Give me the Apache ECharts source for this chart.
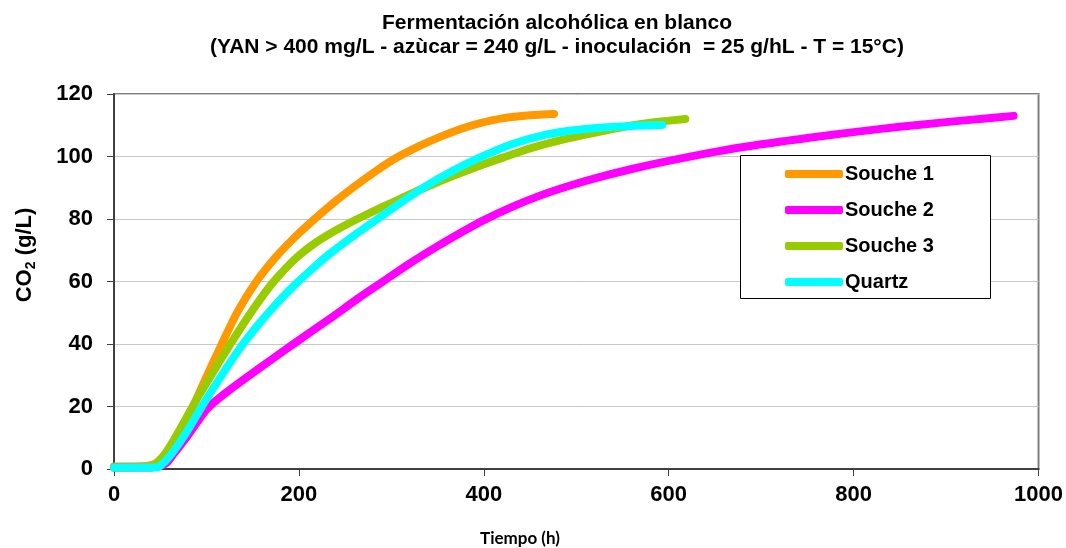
<!DOCTYPE html>
<html>
<head>
<meta charset="utf-8">
<script src="https://cdn.jsdelivr.net/npm/echarts@6/dist/echarts.min.js"></script>
<style>html,body{margin:0;padding:0;background:#fff}#c{width:1066px;height:548px}</style>
</head>
<body>
<div id="c"></div>
<script>
// ---- data ----
const seriesNames = ['Souche 1', 'Souche 2', 'Souche 3', 'Quartz'];
const seriesColors = ['#FF9900', '#FF00FF', '#99CC00', '#00FFFF'];

const souche1Time = [0, 35, 45, 55, 65, 75, 84, 100, 115, 134, 154, 175, 195, 217, 240, 261, 283, 305, 330, 352, 375, 395, 420, 450, 476];
const souche1CO2  = [0.8, 1, 1.8, 4.5, 8.5, 13.5, 19, 29.5, 39, 50.5, 60, 67.8, 74, 80, 85.8, 90.6, 95.3, 99.5, 103.3, 106.2, 108.8, 110.6, 112.2, 113.2, 113.6];

const souche2Time = [0, 40, 50, 57, 65, 78, 90, 100, 110, 125, 150, 175, 197, 233, 266, 291, 320, 350, 375, 399, 430, 460, 490, 520, 560, 600, 650, 700, 750, 800, 850, 900, 940, 973];
const souche2CO2  = [0.5, 0.5, 1, 2, 5, 10, 15, 19, 21.8, 25.3, 30.7, 36, 40.6, 48, 55, 60, 65.8, 71.3, 75.6, 79.5, 83.8, 87.4, 90.4, 93, 96, 98.6, 101.5, 103.9, 105.9, 107.8, 109.5, 111, 112.1, 113];

const souche3Time = [0, 40, 50, 60, 70, 86, 100, 115, 127, 140, 155, 170, 185, 200, 217, 233, 250, 266, 290, 315, 336, 365, 395, 424, 450, 480, 510, 546, 580, 618];
const souche3CO2  = [0.5, 0.8, 3, 7, 12, 20.5, 27.5, 34.8, 40.5, 46.5, 53, 59, 64, 68.3, 72.2, 75.2, 78, 80.4, 83.8, 87.2, 90, 93.6, 97, 100, 102.6, 105, 107, 109.2, 110.8, 112];

const quartzTime = [0, 46, 52, 60, 70, 80, 94, 110, 125, 139, 155, 170, 185, 198, 215, 233, 260, 285, 310, 336, 365, 393, 430, 467, 500, 546, 593];
const quartzCO2  = [0.5, 0.5, 1.5, 4, 8, 12.5, 19.5, 27, 33.8, 39.8, 45.8, 51, 55.8, 59.6, 64.2, 68.8, 74.8, 80, 85.2, 90.3, 95.2, 99.3, 103.9, 107, 108.5, 109.6, 110.1];

const xTicks = { min: 0, max: 1000, interval: 200 };
const yTicks = { min: 0, max: 120, interval: 20 };

const titleLine1 = 'Fermentación alcohólica en blanco';
const titleLine2 = '(YAN > 400 mg/L - azùcar = 240 g/L - inoculación  = 25 g/hL - T = 15°C)';
const xAxisName = 'Tiempo (h)';
const yAxisNameMain = 'CO';
const yAxisNameSub = '2';
const yAxisNameUnit = ' (g/L)';

// ---- chart ----
const F = '"Liberation Sans", Arial, sans-serif';
const times = [souche1Time, souche2Time, souche3Time, quartzTime];
const values = [souche1CO2, souche2CO2, souche3CO2, quartzCO2];

const chart = echarts.init(document.getElementById('c'), null, { renderer: 'canvas' });

const series = seriesNames.map((n, i) => ({
  name: n,
  type: 'line',
  data: times[i].map((t, k) => [t, values[i][k]]),
  showSymbol: false,
  symbol: 'none',
  smooth: 0.3,
  color: seriesColors[i],
  lineStyle: { width: 8, color: seriesColors[i], cap: 'round', join: 'round' },
  emphasis: { disabled: true },
  z: 2 + i * 0.1
}));

chart.setOption({
  animation: false,
  backgroundColor: '#ffffff',
  grid: { left: 114, right: 26, top: 94, bottom: 79, show: true, borderColor: '#808080', borderWidth: 2, containLabel: false },
  xAxis: {
    type: 'value', min: xTicks.min, max: xTicks.max, interval: xTicks.interval,
    axisLine: { show: true, onZero: false, lineStyle: { color: '#404040', width: 2 } },
    axisTick: { show: true, inside: false, length: 7, lineStyle: { color: '#404040', width: 1 } },
    splitLine: { show: false },
    axisLabel: { margin: 15, color: '#000', fontSize: 22, fontWeight: 'bold', fontFamily: F, formatter: v => String(v) }
  },
  yAxis: {
    type: 'value', min: yTicks.min, max: yTicks.max, interval: yTicks.interval,
    axisLine: { show: true, lineStyle: { color: '#404040', width: 2 } },
    axisTick: { show: true, inside: false, length: 7, lineStyle: { color: '#404040', width: 1 } },
    splitLine: { show: true, lineStyle: { color: '#c8c8c8', width: 1 } },
    axisLabel: { margin: 21, color: '#000', fontSize: 22, fontWeight: 'bold', fontFamily: F, formatter: v => String(v) }
  },
  legend: {
    orient: 'vertical',
    left: 785, top: 164,
    padding: 0,
    itemGap: 16,
    itemWidth: 58, itemHeight: 8,
    icon: 'roundRect',
    data: seriesNames,
    selectedMode: false,
    textStyle: { fontSize: 20, fontWeight: 'bold', fontFamily: F, color: '#000', lineHeight: 20, padding: [0, 0, 0, -3] },
    z: 5
  },
  graphic: [
    { type: 'rect', z: 1, silent: true, shape: { x: 740.5, y: 155.5, width: 250, height: 143 }, style: { fill: '#fff', stroke: '#000', lineWidth: 1 } },
    { type: 'text', x: 557, y: 23, silent: true, style: { text: titleLine1, textAlign: 'center', textVerticalAlign: 'middle', font: 'bold 21px ' + F, fill: '#000' } },
    { type: 'text', x: 557, y: 47, silent: true, style: { text: titleLine2, textAlign: 'center', textVerticalAlign: 'middle', font: 'bold 21px ' + F, fill: '#000' } },
    { type: 'text', x: 520, y: 539, silent: true, style: { text: xAxisName, textAlign: 'center', textVerticalAlign: 'middle', font: 'bold 17px Lato, "Open Sans", sans-serif', fill: '#000' } },
    { type: 'text', x: 25, y: 255, rotation: Math.PI / 2, silent: true,
      style: {
        text: '{a|' + yAxisNameMain + '}{s|' + yAxisNameSub + '}{a|' + yAxisNameUnit + '}',
        align: 'center', verticalAlign: 'middle',
        rich: {
          a: { fontSize: 22, fontWeight: 'bold', fontFamily: F, fill: '#000', lineHeight: 26, verticalAlign: 'middle' },
          s: { fontSize: 14, fontWeight: 'bold', fontFamily: F, fill: '#000', lineHeight: 26, verticalAlign: 'bottom', padding: [10, 0, 0, 0] }
        }
      }
    }
  ],
  series: series
});
</script>
</body>
</html>
